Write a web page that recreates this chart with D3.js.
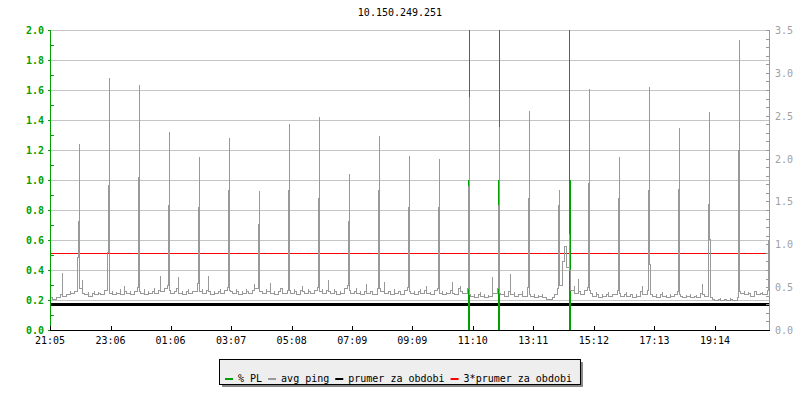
<!DOCTYPE html>
<html><head><meta charset="utf-8">
<script src="https://cdn.jsdelivr.net/npm/d3@7/dist/d3.min.js"></script>
<style>
body{margin:0;background:#fff}
svg{display:block}
text{font-family:"DejaVu Sans Mono",monospace;font-size:10px}
</style>
</head><body>
<svg id="chart" width="800" height="400"></svg>
<script>
// ---------------- data ----------------
const chartTitle = "10.150.249.251";
const timeDomain = [0, 1437];               // minutes after 21:05
const tickMinutes = [0,121,241,362,483,604,724,845,966,1087,1208,1329];
const tickLabels = ["21:05","23:06","01:06","03:07","05:08","07:09","09:09","11:10","13:11","15:12","17:13","19:14"];
const leftTicks = [0.0,0.2,0.4,0.6,0.8,1.0,1.2,1.4,1.6,1.8,2.0];
const rightTicks = [0.0,0.5,1.0,1.5,2.0,2.5,3.0,3.5];
const sampleStep = 4;                        // minutes between baseline samples
const pingBaseline = [
 0.22,0.22,0.21,0.23,0.22,0.24,0.39,0.23,0.25,0.24,0.27,0.25,0.26,0.49,0.30,
 0.28,0.34,0.25,0.24,0.26,0.23,0.25,0.27,0.24,0.26,0.25,0.24,0.27,0.52,0.26,
 0.25,0.27,0.24,0.26,0.25,0.28,0.24,0.30,0.26,0.25,0.27,0.24,0.26,0.29,0.27,
 0.26,0.25,0.28,0.24,0.27,0.25,0.26,0.29,0.25,0.27,0.37,0.26,0.28,0.30,0.27,
 0.27,0.25,0.26,0.28,0.36,0.25,0.27,0.24,0.26,0.28,0.25,0.27,0.26,0.31,0.28,
 0.26,0.28,0.25,0.27,0.37,0.26,0.24,0.27,0.25,0.26,0.28,0.25,0.27,0.29,0.27,
 0.27,0.26,0.25,0.28,0.26,0.24,0.27,0.25,0.28,0.26,0.25,0.27,0.31,0.28,0.26,
 0.26,0.27,0.25,0.28,0.26,0.32,0.25,0.27,0.24,0.26,0.28,0.29,0.25,0.27,0.29,
 0.27,0.25,0.28,0.26,0.24,0.27,0.30,0.26,0.25,0.28,0.26,0.25,0.27,0.29,0.26,
 0.26,0.28,0.25,0.27,0.34,0.26,0.25,0.28,0.26,0.24,0.27,0.25,0.28,0.30,0.27,
 0.27,0.25,0.26,0.29,0.25,0.27,0.24,0.26,0.31,0.25,0.27,0.26,0.24,0.28,0.29,
 0.28,0.26,0.33,0.25,0.27,0.26,0.24,0.28,0.25,0.27,0.26,0.24,0.27,0.29,0.26,
 0.26,0.25,0.27,0.24,0.26,0.28,0.25,0.27,0.30,0.25,0.26,0.24,0.27,0.28,0.26,
 0.25,0.27,0.24,0.26,0.25,0.27,0.33,0.25,0.24,0.28,0.30,0.26,0.25,0.28,0.27,
 0.24,0.23,0.25,0.22,0.24,0.26,0.23,0.25,0.22,0.24,0.23,0.36,0.25,0.28,0.26,
 0.25,0.24,0.27,0.23,0.26,0.38,0.24,0.26,0.23,0.25,0.24,0.27,0.23,0.29,0.26,
 0.24,0.23,0.25,0.22,0.24,0.23,0.25,0.22,0.23,0.21,0.21,0.22,0.24,0.28,0.30,
 0.30,0.35,0.38,0.40,0.33,0.30,0.27,0.30,0.25,0.35,0.26,0.24,0.27,0.29,0.26,
 0.27,0.25,0.23,0.26,0.24,0.22,0.25,0.23,0.24,0.26,0.23,0.25,0.24,0.27,0.25,
 0.25,0.23,0.24,0.26,0.23,0.25,0.24,0.22,0.25,0.23,0.26,0.30,0.24,0.27,0.29,
 0.44,0.24,0.23,0.25,0.22,0.24,0.26,0.23,0.24,0.22,0.25,0.23,0.24,0.26,0.25,
 0.24,0.23,0.22,0.24,0.23,0.25,0.22,0.23,0.24,0.22,0.25,0.31,0.24,0.23,0.26,
 0.61,0.22,0.21,0.20,0.21,0.22,0.20,0.21,0.21,0.20,0.22,0.21,0.20,0.22,0.21,
 0.26,0.25,0.27,0.24,0.26,0.25,0.23,0.26,0.27,0.24,0.25,0.26,0.24,0.27,0.26
];
const spikeMinutes   = [57,117,177,237,297,357,417,477,537,597,657,717,777,837,897,957,1017,1077,1137,1197,1257,1317,1377,1437];
const spikePeaks     = [1.25,1.69,1.64,1.33,1.16,1.29,0.93,1.38,1.43,1.05,1.30,1.17,1.15,1.56,1.36,1.47,0.94,1.61,1.16,1.63,1.35,1.46,1.94,1.17];
const spikeShoulders = [0.73,0.97,1.02,0.83,0.82,0.93,0.71,0.93,0.88,0.73,0.93,0.82,0.82,0.96,0.83,0.88,0.83,0.98,0.88,0.93,0.94,0.84,1.20,0.60];
const extraMinutes = [1024,1028,1031,1034,1037,1039];
const extraValues  = [0.46,0.57,0.56,0.42,0.65,0.40];
const plStartMinutes = [835,895,1037];
const plStartValues  = [1.0,1.0,100];
const plEndMinutes   = [837,897,1039];
const plEndValues    = [100,100,1.0];
const periodAvg = 0.17;
const periodAvg3 = 0.51;
const legendLabels = ["% PL","avg ping","prumer za obdobi","3*prumer za obdobi"];
const legendColors = ["#00a000","#999999","#000000","#ff0000"];

// ---------------- build series ----------------
const baseAt = m => pingBaseline[Math.max(0, Math.min(pingBaseline.length-1, Math.round(m/sampleStep)))];
const specialPts = [];
spikeMinutes.forEach((m,i)=>{
  specialPts.push([m-4, baseAt(m-4)]);
  specialPts.push([m-2, spikeShoulders[i]]);
  specialPts.push([m, spikePeaks[i]]);
  if (m+2 <= timeDomain[1]) specialPts.push([m+2, baseAt(m+2)]);
});
extraMinutes.forEach((m,i)=> specialPts.push([m, extraValues[i]]));
const basePts = pingBaseline.map((v,i)=>[i*sampleStep, v])
  .filter(p => !specialPts.some(s => Math.abs(s[0]-p[0]) < 3));
const pingPts = basePts.concat(specialPts).sort((a,b)=>a[0]-b[0]);

const plEvents = plStartMinutes.map((m,i)=>[[m,plStartValues[i]],[plEndMinutes[i],plEndValues[i]]]);

// ---------------- drawing ----------------
const svg = d3.select("#chart");
const L = 50, R = 769, T = 30, B = 330;
const x = d3.scaleLinear().domain(timeDomain).range([L, R]);
const y = d3.scaleLinear().domain([0, 2]).range([B, T]);
const yR = d3.scaleLinear().domain([0, 3.5]).range([B, T]);
const green = "#00a000", grey = "#999999";
const col = m => Math.round(x(m)) + 0.5;                       // pixel column centre
const row = v => Math.max(-10, Math.round(y(v))) + 0.5;        // pixel row centre

// pixel-step path: each change of level is drawn in the column of the higher sample
function stepPath(pts){
  const p = d3.path();
  pts.forEach((d,i)=>{
    const cx = col(d[0]), cy = row(d[1]);
    if (i === 0) { p.moveTo(cx, cy); return; }
    const pr = pts[i-1], px = col(pr[0]), py = row(pr[1]);
    if (d[1] >= pr[1]) { p.lineTo(cx, py); p.lineTo(cx, cy); }
    else { p.lineTo(px, cy); p.lineTo(cx, cy); }
  });
  return p.toString();
}

svg.append("text").attr("x", 400).attr("y", 16).attr("text-anchor","middle").attr("fill","#000").text(chartTitle);

const defs = svg.append("defs");
defs.append("clipPath").attr("id","plot").append("rect").attr("x",L).attr("y",T).attr("width",R-L+1).attr("height",B-T+1);

// grid
svg.append("g").selectAll("line").data(leftTicks.filter(v=>v>0)).join("line")
  .attr("x1",L).attr("x2",R).attr("y1",d=>y(d)+0.5).attr("y2",d=>y(d)+0.5)
  .attr("stroke","#c4c4c4").attr("stroke-width",1).attr("shape-rendering","crispEdges");

// hrules
svg.append("line").attr("x1",L).attr("x2",R).attr("y1",y(periodAvg)).attr("y2",y(periodAvg))
  .attr("stroke","#000").attr("stroke-width",3).attr("shape-rendering","crispEdges");
svg.append("line").attr("x1",L).attr("x2",R).attr("y1",Math.floor(y(periodAvg3))+0.5).attr("y2",Math.floor(y(periodAvg3))+0.5)
  .attr("stroke","#ff0000").attr("stroke-width",1).attr("shape-rendering","crispEdges");

// PL (one vertical per loss sample)
svg.append("g").attr("clip-path","url(#plot)").selectAll("path").data(plEvents).join("path")
  .attr("d", ev => ev.map(d => `M${col(d[0])},${row(0)}V${row(d[1])}`).join(""))
  .attr("fill","none").attr("stroke",green).attr("stroke-width",1)
  .attr("stroke-linecap","square").attr("shape-rendering","crispEdges");

// ping line
svg.append("path").datum(pingPts).attr("clip-path","url(#plot)")
  .attr("d", stepPath)
  .attr("fill","none").attr("stroke",grey).attr("stroke-width",1)
  .attr("stroke-linecap","square").attr("stroke-linejoin","miter").attr("shape-rendering","crispEdges");

// left axis
const ga = svg.append("g").attr("shape-rendering","crispEdges");
ga.append("line").attr("x1",L+0.5).attr("x2",L+0.5).attr("y1",T).attr("y2",B).attr("stroke",green);
const leftMinor = d3.range(1, 20, 2).map(i => i/10);
ga.selectAll(".lm").data(leftMinor).join("line")
  .attr("x1",L).attr("x2",L+4).attr("y1",d=>y(d)+0.5).attr("y2",d=>y(d)+0.5).attr("stroke",green);
ga.selectAll(".lM").data(leftTicks).join("line")
  .attr("x1",L-2).attr("x2",L).attr("y1",d=>y(d)+0.5).attr("y2",d=>y(d)+0.5).attr("stroke",green);
ga.selectAll("text").data(leftTicks).join("text")
  .attr("x",44).attr("y",d=>y(d)+4).attr("text-anchor","end").attr("fill",green)
  .attr("font-weight","bold").text(d=>d.toFixed(1));

// right axis
const gr = svg.append("g").attr("shape-rendering","crispEdges");
gr.append("line").attr("x1",R+0.5).attr("x2",R+0.5).attr("y1",T).attr("y2",B).attr("stroke",grey);
const rightMinor = d3.range(0, 36).map(i=>i/10);
gr.selectAll(".rm").data(rightMinor).join("line")
  .attr("x1",R-3).attr("x2",R).attr("y1",d=>Math.round(yR(d))+0.5).attr("y2",d=>Math.round(yR(d))+0.5).attr("stroke",grey);
gr.selectAll("text").data(rightTicks).join("text")
  .attr("x",775).attr("y",d=>yR(d)+4).attr("fill","#a0a0a0").text(d=>d.toFixed(1));

// bottom axis
const gb = svg.append("g").attr("shape-rendering","crispEdges");
gb.append("line").attr("x1",L).attr("x2",R+1).attr("y1",B+0.5).attr("y2",B+0.5).attr("stroke","#000");
gb.selectAll("line.t").data(tickMinutes).join("line").attr("class","t")
  .attr("x1",d=>Math.round(x(d))+0.5).attr("x2",d=>Math.round(x(d))+0.5).attr("y1",B-4).attr("y2",B).attr("stroke","#000");
gb.selectAll("text").data(tickMinutes).join("text")
  .attr("x",d=>x(d)).attr("y",344).attr("text-anchor","middle").attr("fill","#000")
  .text((d,i)=>tickLabels[i]);

// legend
const lg = svg.append("g");
const sw = 8, gap = 5, itemGap = 6, pad = 6;
const tmp = lg.selectAll("text").data(legendLabels).join("text").attr("y",382).attr("fill","#000").text(d=>d);
const widths = []; tmp.each(function(){ widths.push(this.getComputedTextLength()); });
const contentW = d3.sum(widths) + legendLabels.length*(sw+gap) + (legendLabels.length-1)*itemGap;
const boxW = contentW + pad + 8, boxX = Math.round(399 - boxW/2), boxY = 359, boxH = 25;
lg.insert("rect","text").attr("x",boxX+3).attr("y",boxY+3).attr("width",boxW).attr("height",boxH).attr("fill","#888");
lg.insert("rect","text").attr("x",boxX+0.5).attr("y",boxY+0.5).attr("width",boxW).attr("height",boxH).attr("fill","#eeeeee").attr("stroke","#000");
let cx = boxX + pad;
legendLabels.forEach((lab,i)=>{
  lg.append("rect").attr("x",cx).attr("y",378).attr("width",sw).attr("height",2).attr("fill",legendColors[i]);
  tmp.filter((d,j)=>j===i).attr("x",cx+sw+gap);
  cx += sw + gap + widths[i] + itemGap;
});
</script>
</body></html>
